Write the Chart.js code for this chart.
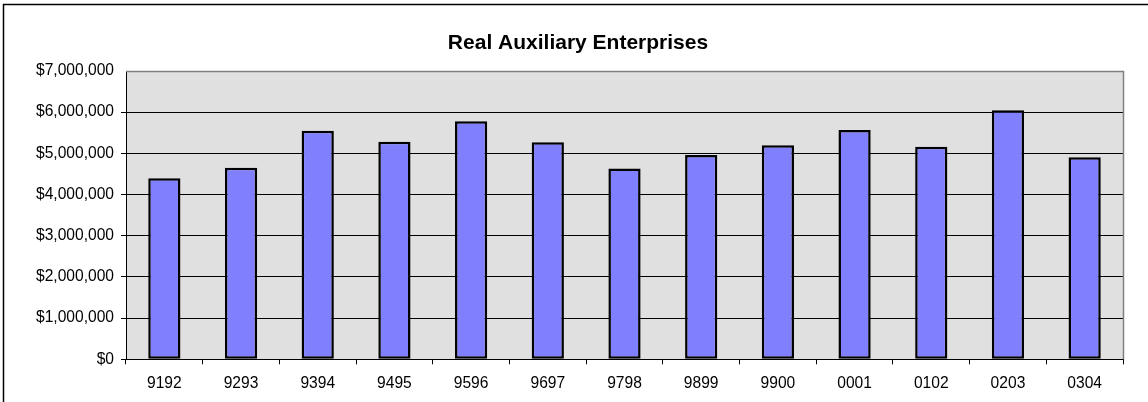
<!DOCTYPE html>
<html>
<head>
<meta charset="utf-8">
<script src="https://cdn.jsdelivr.net/npm/chart.js@4/dist/chart.umd.min.js"></script>
<style>
  html, body { margin: 0; padding: 0; background: #ffffff; }
  #wrap { width: 1148px; height: 402px; position: relative; }
</style>
</head>
<body>
<div id="wrap"><canvas id="c" width="1148" height="402"></canvas></div>
<script>
const chartTitle = 'Real Auxiliary Enterprises';
const categories = ['9192', '9293', '9394', '9495', '9596', '9697', '9798', '9899', '9900', '0001', '0102', '0203', '0304'];
const values = [4395000, 4650000, 5550000, 5280000, 5780000, 5270000, 4630000, 4960000, 5200000, 5570000, 5160000, 6050000, 4905000];
const yMin = 0;
const yMax = 7000000;
const yStep = 1000000;

const FONT = '"Liberation Sans", Arial, sans-serif';
const PLOT_LEFT = 126;

const framePlugin = {
  id: 'frame',
  beforeDraw(chart) {
    const { ctx, chartArea: a } = chart;
    ctx.save();
    ctx.fillStyle = '#ffffff';
    ctx.fillRect(0, 0, chart.width, chart.height);
    ctx.fillStyle = '#e0e0e0';
    ctx.fillRect(a.left, a.top, a.right - a.left, a.bottom - a.top);
    ctx.strokeStyle = '#000000';
    ctx.lineWidth = 1.5;
    ctx.beginPath();
    ctx.moveTo(3.5, chart.height);
    ctx.lineTo(3.5, 4.5);
    ctx.lineTo(chart.width, 4.5);
    ctx.stroke();
    ctx.restore();
  },
  afterDatasetsDraw(chart) {
    const { ctx, chartArea: a } = chart;
    ctx.save();
    ctx.strokeStyle = '#808080';
    ctx.lineWidth = 1.5;
    ctx.beginPath();
    ctx.moveTo(a.left, Math.round(a.top) + 0.5);
    ctx.lineTo(Math.round(a.right) + 0.5, Math.round(a.top) + 0.5);
    ctx.lineTo(Math.round(a.right) + 0.5, a.bottom);
    ctx.stroke();
    ctx.restore();
  }
};

new Chart(document.getElementById('c'), {
  type: 'bar',
  data: {
    labels: categories,
    datasets: [{
      data: values,
      backgroundColor: '#8080ff',
      borderColor: '#000000',
      borderWidth: 2.5,
      borderSkipped: false,
      barPercentage: 0.42,
      categoryPercentage: 1.0
    }]
  },
  plugins: [framePlugin],
  options: {
    responsive: false,
    animation: false,
    events: [],
    layout: { padding: { left: 33, right: 25, top: 0, bottom: 0 } },
    plugins: {
      legend: { display: false },
      tooltip: { enabled: false },
      title: {
        display: true,
        text: chartTitle,
        color: '#000000',
        font: { family: FONT, size: 21, weight: 'bold' },
        padding: { top: 30.5, bottom: 15.3 }
      }
    },
    scales: {
      x: {
        grid: {
          display: true,
          offset: true,
          drawOnChartArea: false,
          drawTicks: true,
          tickLength: 5,
          color: '#000000'
        },
        border: { display: true, color: '#000000', width: 1 },
        ticks: {
          color: '#000000',
          font: { family: FONT, size: 15.6 },
          padding: 10,
          maxRotation: 0,
          autoSkip: false
        },
        afterFit(scale) { scale.height = 42.7; }
      },
      y: {
        min: yMin,
        max: yMax,
        grid: {
          drawTicks: true,
          tickLength: 5,
          color: (c) => (c.tick && c.tick.value === yMax) ? 'rgba(0,0,0,0)' : '#000000',
          lineWidth: 1
        },
        border: { display: true, color: '#000000', width: 1 },
        ticks: {
          stepSize: yStep,
          color: '#000000',
          font: { family: FONT, size: 15.6 },
          padding: 7,
          callback: (v) => '$' + Number(v).toLocaleString('en-US')
        },
        afterFit(scale) { scale.width = PLOT_LEFT - 33; }
      }
    }
  }
});
</script>
</body>
</html>
